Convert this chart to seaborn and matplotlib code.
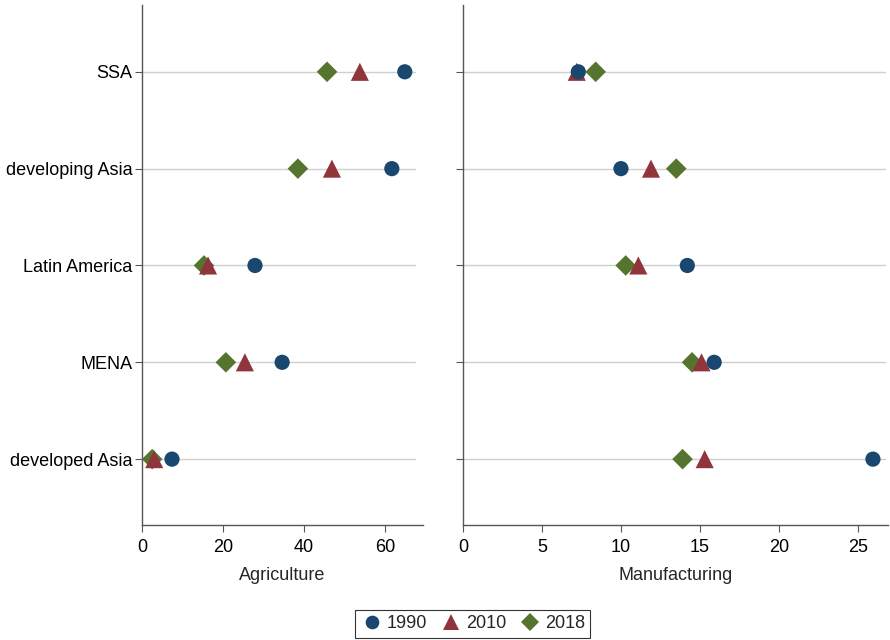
import pandas as pd
import matplotlib
matplotlib.use("Agg")
import matplotlib.pyplot as plt
import seaborn as sns

regions = ["SSA", "developing Asia", "Latin America", "MENA", "developed Asia"]
years = ["1990", "2010", "2018"]

# share of value added
agri_1990 = [64.9, 61.7, 27.9, 34.6, 7.4]
agri_2010 = [53.8, 46.9, 16.3, 25.4, 3.0]
agri_2018 = [45.7, 38.5, 15.3, 20.7, 2.5]

manu_1990 = [7.3, 10.0, 14.2, 15.9, 25.95]
manu_2010 = [7.2, 11.9, 11.1, 15.1, 15.3]
manu_2018 = [8.4, 13.5, 10.3, 14.5, 13.9]

palette = {"1990": "#1a476f", "2010": "#90353b", "2018": "#55752f"}
markers = {"1990": "o", "2010": "^", "2018": "D"}
sizes = {"1990": 120, "2010": 170, "2018": 110}

sns.set_theme(style="white")
plt.rcParams["font.family"] = ["Liberation Sans", "DejaVu Sans"]


def long_frame(v1990, v2010, v2018):
    # 2018 first so that 1990 ends up drawn on top, like the original
    rows = []
    for yr, vals in [("2018", v2018), ("2010", v2010), ("1990", v1990)]:
        for reg, v in zip(regions, vals):
            rows.append({"region": reg, "value": v, "year": yr})
    return pd.DataFrame(rows)


df_agri = long_frame(agri_1990, agri_2010, agri_2018)
df_manu = long_frame(manu_1990, manu_2010, manu_2018)

fig = plt.figure(figsize=(8.9, 6.4), dpi=100)
ax1 = fig.add_axes([0.1596, 0.1797, 0.3157, 0.8125])
ax2 = fig.add_axes([0.5202, 0.1797, 0.4775, 0.8125])

fs = 13
panels = [(ax1, df_agri, "Agriculture", [0, 20, 40, 60], 69.4, 0.97),
          (ax2, df_manu, "Manufacturing", [0, 5, 10, 15, 20, 25], 26.9, 0.993)]

for ax, df, label, xticks, xmax, gridend in panels:
    for i in range(len(regions)):
        ax.axhline(i, xmin=0, xmax=gridend, color="#cfcfcf", lw=1, zorder=0)
    sns.scatterplot(data=df, x="value", y="region", hue="year", style="year",
                    size="year", sizes=sizes, size_order=years,
                    hue_order=years, style_order=years, palette=palette,
                    markers=markers, linewidth=0, ax=ax, zorder=3)
    ax.set_ylim(len(regions) - 1 + 0.68, -0.69)
    ax.set_xlim(0, xmax)
    ax.set_xticks(xticks)
    ax.set_xlabel(label, fontsize=fs, labelpad=8)
    ax.set_ylabel("")
    for side in ["top", "right"]:
        ax.spines[side].set_visible(False)
    for side in ["left", "bottom"]:
        ax.spines[side].set_color("#555555")
        ax.spines[side].set_linewidth(1)
    ax.tick_params(axis="x", pad=5)
    ax.tick_params(axis="y", pad=2)
    ax.tick_params(axis="both", which="major", direction="out", length=5,
                   width=0.8, color="#555555", labelsize=fs, left=True,
                   bottom=True, labelcolor="black")
    ax.grid(False)

handles, labels = ax1.get_legend_handles_labels()
ax1.get_legend().remove()
ax2.get_legend().remove()
ax2.set_yticklabels([])

leg = fig.legend(handles, labels, loc="center", bbox_to_anchor=(0.531, 0.025),
                 ncol=3, frameon=True, fontsize=fs, handletextpad=0.15,
                 columnspacing=0.7, borderpad=0.3, handlelength=1.3,
                 markerscale=0.9, fancybox=False)
leg.get_frame().set_edgecolor("black")
leg.get_frame().set_linewidth(0.8)

fig.savefig("out.png", dpi=100)
